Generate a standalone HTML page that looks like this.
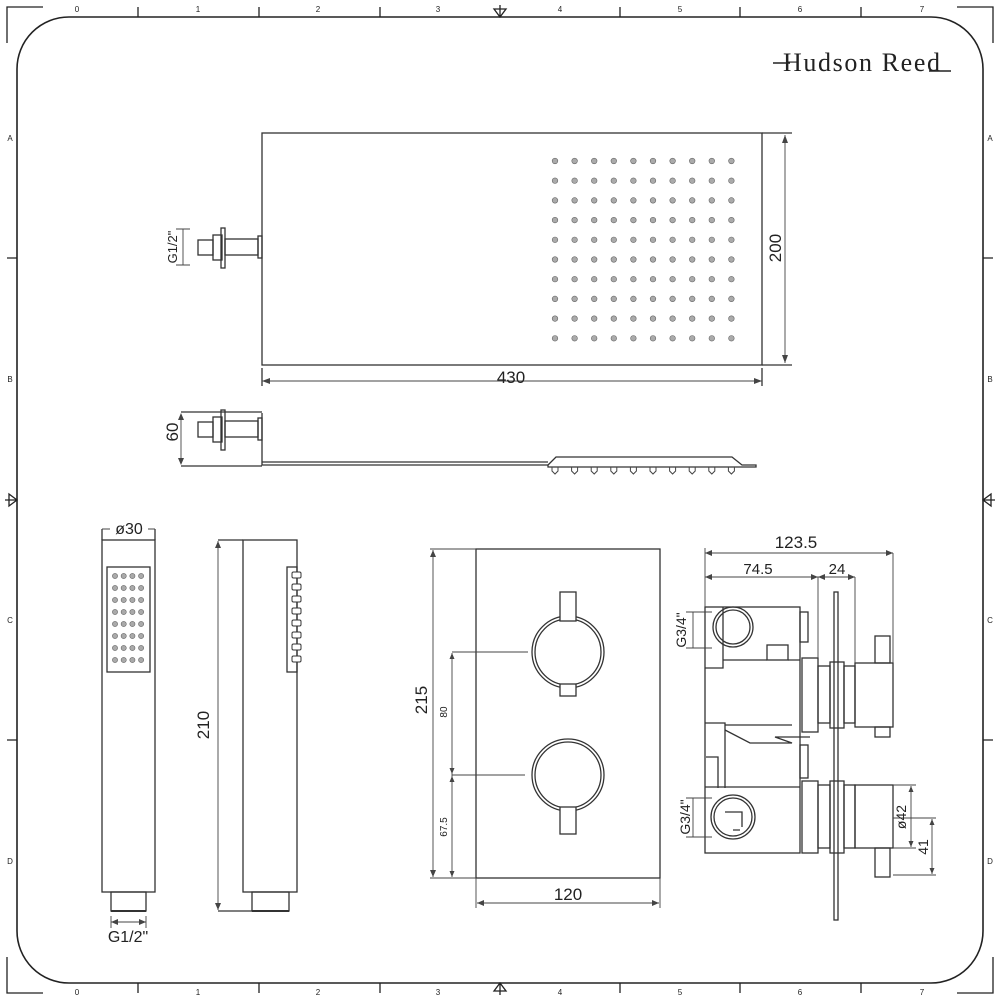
<!DOCTYPE html>
<html><head><meta charset="utf-8"><style>
html,body{margin:0;padding:0;background:#fff;}
svg{display:block;}
text{font-family:"Liberation Sans",sans-serif;fill:#222;}
</style></head><body>
<svg width="1000" height="1000" viewBox="0 0 1000 1000" xmlns="http://www.w3.org/2000/svg">
<g fill="none" stroke="#222" stroke-width="1.3">
<rect x="17" y="17" width="966" height="966" rx="52" ry="52" stroke-width="1.6"/>
<path d="M7 43V7H43 M957 7H993V43 M7 957V993H43 M957 993H993V957"/>
<path d="M138 7V17 M259 7V17 M380 7V17 M620 7V17 M740 7V17 M861 7V17 M138 983V993 M259 983V993 M380 983V993 M620 983V993 M740 983V993 M861 983V993 M7 258H17 M7 740H17 M983 258H993 M983 740H993"/>
<path d="M500 5V17 M494 9L500 17L506 9Z M500 983V995 M494 991L500 983L506 991Z M5 500H17 M9 494L17 500L9 506Z M983 500H995 M991 494L983 500L991 506Z"/>
</g>
<g font-size="8" style="font-family:'Liberation Mono',monospace" text-anchor="middle">
<text x="77" y="12">0</text><text x="198" y="12">1</text><text x="318" y="12">2</text><text x="438" y="12">3</text><text x="560" y="12">4</text><text x="680" y="12">5</text><text x="800" y="12">6</text><text x="922" y="12">7</text>
<text x="77" y="995">0</text><text x="198" y="995">1</text><text x="318" y="995">2</text><text x="438" y="995">3</text><text x="560" y="995">4</text><text x="680" y="995">5</text><text x="800" y="995">6</text><text x="922" y="995">7</text>
<text x="10" y="141">A</text><text x="10" y="382">B</text><text x="10" y="623">C</text><text x="10" y="864">D</text>
<text x="990" y="141">A</text><text x="990" y="382">B</text><text x="990" y="623">C</text><text x="990" y="864">D</text>
</g>
<text x="783" y="71" style="font-family:'Liberation Serif',serif" font-size="26" textLength="157">Hudson Reed</text>
<path d="M773 63H790 M929 71H951" stroke="#222" stroke-width="1.6"/>

<!-- shower head top -->
<g fill="none" stroke="#333" stroke-width="1.3">
<rect x="262" y="133" width="500" height="232"/>
<rect x="258" y="236" width="4" height="22"/>
<rect x="225" y="239" width="33" height="16"/>
<rect x="221" y="228" width="4" height="40"/>
<rect x="213" y="235" width="9" height="25"/>
<rect x="198" y="240" width="15" height="15"/>
<path d="M762 133H792 M762 365H792"/>
<path d="M262 368V386 M762 368V386"/>
</g>
<g stroke="#444" stroke-width="0.9" fill="none">
<path d="M785 135V363 M262 381H762 M183 229V265 M176 229H190 M176 265H190"/>
</g>
<g fill="#444">
<path d="M785 135l-3 8h6z M785 363l-3-8h6z M262 381l8-3v6z M762 381l-8-3v6z"/>
</g>
<text x="785" y="248" font-size="17" text-anchor="middle" transform="rotate(-90 785 248)" dy="-4">200</text>
<text x="511" y="383" font-size="17" text-anchor="middle">430</text>
<text x="177" y="247" font-size="13" text-anchor="middle" transform="rotate(-90 177 247)">G1/2"</text>
<g id="dots" fill="#aaa" stroke="#666" stroke-width="0.6"></g>
<!-- side view -->
<g fill="none" stroke="#333" stroke-width="1.3">
<path d="M262 413V465 H548 M262 462H548"/>
<rect x="258" y="418" width="4" height="22"/>
<rect x="225" y="421" width="33" height="16"/>
<rect x="221" y="410" width="4" height="40"/>
<rect x="213" y="417" width="9" height="25"/>
<rect x="198" y="422" width="15" height="15"/>
<path d="M548 465L556 457H732L742 465H756 V467H548Z"/>
<path d="M181 412H262 M181 466H262"/>
</g>
<path d="M181 414V464" stroke="#444" stroke-width="0.9"/>
<path d="M181 413l-3 7h6z M181 465l-3-7h6z" fill="#444"/>
<text x="178" y="432" font-size="17" text-anchor="middle" transform="rotate(-90 178 432)">60</text>
<g id="nozz" fill="none" stroke="#444" stroke-width="1"></g>

<!-- handset -->
<g fill="none" stroke="#333" stroke-width="1.3">
<rect x="102" y="540" width="53" height="352"/>
<rect x="107" y="567" width="43" height="105"/>
<rect x="111" y="892" width="35" height="19"/>
<path d="M111 911H146" stroke-width="2"/>
<path d="M102 529V540 M155 529V540"/>
<rect x="243" y="540" width="54" height="352"/>
<rect x="287" y="567" width="10" height="105"/>
<rect x="252" y="892" width="37" height="19"/>
<path d="M252 911H289" stroke-width="2"/>
<path d="M218 540H243 M218 911H252"/>
</g>
<g id="hdots" fill="#aaa" stroke="#666" stroke-width="0.6"></g>
<g id="hnoz" fill="#fff" stroke="#333" stroke-width="1"></g>
<g stroke="#444" stroke-width="0.9" fill="none">
<path d="M102 529H110 M148 529H155 M111 922H146 M111 916V928 M146 916V928 M218 541V910"/>
</g>
<path d="M218 541l-3 7h6z M218 910l-3-7h6z M111 922l7-3v6z M146 922l-7-3v6z" fill="#444"/>
<text x="129" y="534" font-size="16" text-anchor="middle">ø30</text>
<text x="128" y="942" font-size="16" text-anchor="middle">G1/2"</text>
<text x="209" y="725" font-size="17" text-anchor="middle" transform="rotate(-90 209 725)">210</text>

<!-- valve front -->
<g fill="none" stroke="#333" stroke-width="1.3">
<rect x="476" y="549" width="184" height="329"/>
<circle cx="568" cy="652" r="36"/><circle cx="568" cy="652" r="33"/>
<circle cx="568" cy="775" r="36"/><circle cx="568" cy="775" r="33"/>
<rect x="560" y="592" width="16" height="29" fill="#fff"/>
<rect x="560" y="684" width="16" height="12" fill="#fff"/>
<rect x="560" y="807" width="16" height="27" fill="#fff"/>
</g>
<g stroke="#444" stroke-width="0.9" fill="none">
<path d="M430 549H476 M430 878H476 M433 550V877 M452 652H528 M452 775H525 M452 653V877 M476 878V908 M660 878V908 M477 903H659"/>
</g>
<path d="M433 550l-3 7h6z M433 877l-3-7h6z M452 653l-2.5 6h5z M452 774l-2.5-6h5z M452 776l-2.5 6h5z M452 877l-2.5-6h5z M477 903l7-3v6z M659 903l-7-3v6z" fill="#444"/>
<text x="431" y="700" font-size="17" text-anchor="middle" transform="rotate(-90 431 700)" dy="-4">215</text>
<text x="450" y="712" font-size="10" text-anchor="middle" transform="rotate(-90 450 712)" dy="-3">80</text>
<text x="450" y="827" font-size="10" text-anchor="middle" transform="rotate(-90 450 827)" dy="-3">67.5</text>
<text x="568" y="900" font-size="17" text-anchor="middle">120</text>

<!-- valve side -->
<g fill="none" stroke="#333" stroke-width="1.3">
<rect x="705" y="607" width="95" height="246"/>
<path d="M705 787H800 M705 668H723V607 M705 723H725V788 M706 757H718V788"/>
<circle cx="733" cy="627" r="20"/><circle cx="733" cy="627" r="17"/>
<circle cx="733" cy="817" r="22"/><circle cx="733" cy="817" r="19"/>
<path d="M725 812H742V827 M733 830H740"/>
<rect x="767" y="645" width="21" height="15"/>
<path d="M723 660H767 M788 660H800"/>
<path d="M725 730L750 743H792L775 737H810 M725 725H792"/>
<rect x="800" y="612" width="8" height="30"/>
<rect x="800" y="745" width="8" height="33"/>
<rect x="834" y="592" width="4" height="328"/>
<rect x="802" y="658" width="16" height="74"/>
<rect x="818" y="666" width="12" height="57"/>
<rect x="830" y="662" width="14" height="66"/>
<rect x="844" y="666" width="11" height="57"/>
<rect x="855" y="663" width="38" height="64"/>
<rect x="875" y="636" width="15" height="27"/>
<rect x="875" y="727" width="15" height="10"/>
<rect x="802" y="781" width="16" height="72"/>
<rect x="818" y="785" width="12" height="63"/>
<rect x="830" y="781" width="14" height="72"/>
<rect x="844" y="785" width="11" height="63"/>
<rect x="855" y="785" width="38" height="63"/>
<rect x="875" y="848" width="15" height="29"/>
</g>
<g stroke="#444" stroke-width="0.9" fill="none">
<path d="M705 548V607 M818 577V658 M855 577V663 M893 553V663 M705 553H893 M705 577H855 M686 612H712 M686 648H712 M693 612V648 M686 798H712 M686 837H712 M693 798V837 M893 785H916 M893 848H916 M911 786V847 M893 818H936 M893 875H936 M932 819V874"/>
</g>
<path d="M705 553l7-3v6z M893 553l-7-3v6z M705 577l7-3v6z M818 577l-7-3v6z M818 577l7-3v6z M855 577l-7-3v6z M911 786l-2.5 6h5z M911 847l-2.5-6h5z M932 819l-2.5 6h5z M932 874l-2.5-6h5z" fill="#444"/>
<text x="796" y="548" font-size="17" text-anchor="middle">123.5</text>
<text x="758" y="574" font-size="15" text-anchor="middle">74.5</text>
<text x="837" y="574" font-size="15" text-anchor="middle">24</text>
<text x="686" y="630" font-size="14" text-anchor="middle" transform="rotate(-90 686 630)">G3/4"</text>
<text x="690" y="817" font-size="14" text-anchor="middle" transform="rotate(-90 690 817)">G3/4"</text>
<text x="906" y="817" font-size="14" text-anchor="middle" transform="rotate(-90 906 817)">ø42</text>
<text x="928" y="847" font-size="14" text-anchor="middle" transform="rotate(-90 928 847)">41</text>
</svg>
<script>
(function(){
var ns="http://www.w3.org/2000/svg";
function el(p,n,a){var e=document.createElementNS(ns,n);for(var k in a)e.setAttribute(k,a[k]);p.appendChild(e);}
var d=document.getElementById("dots");
for(var i=0;i<10;i++)for(var j=0;j<10;j++){el(d,"circle",{cx:555+i*19.6,cy:161+j*19.7,r:2.8});}
var n=document.getElementById("nozz");
for(var i=0;i<10;i++){var x=555+i*19.6;el(n,"path",{d:"M"+(x-3)+" 467V471L"+x+" 474L"+(x+3)+" 471V467"});}
var h=document.getElementById("hdots");
for(var i=0;i<4;i++)for(var j=0;j<8;j++){el(h,"circle",{cx:115+i*8.7,cy:576+j*12,r:2.6});}
var hn=document.getElementById("hnoz");
for(var j=0;j<8;j++){el(hn,"rect",{x:292,y:572+j*12,width:9,height:6,rx:1.5});}
})();
</script>
</body></html>
